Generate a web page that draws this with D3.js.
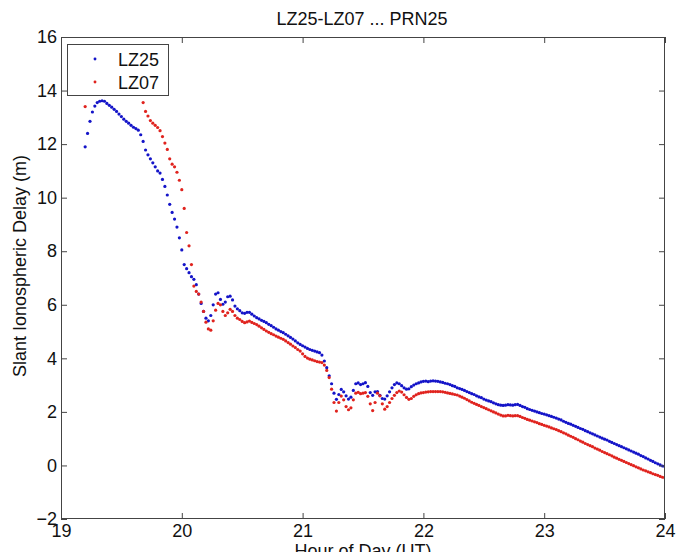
<!DOCTYPE html>
<html>
<head>
<meta charset="utf-8">
<script src="https://cdn.jsdelivr.net/npm/d3@7"></script>
<style>
  html, body { margin: 0; padding: 0; background: #fff; }
  svg { display: block; }
  text { font-family: "Liberation Sans", Arial, sans-serif; fill: #111; }
</style>
</head>
<body>
<svg id="chart" width="679" height="552"></svg>
<script>
// ---- data ----
const title = "LZ25-LZ07 ... PRN25";
const xLabel = "Hour of Day (UT)";
const yLabel = "Slant Ionospheric Delay (m)";
const seriesNames = ["LZ25", "LZ07"];
const startHour = 19.2;
const stepHour = 0.02;
const xTicks = [19, 20, 21, 22, 23, 24];
const yTicks = [-2, 0, 2, 4, 6, 8, 10, 12, 14, 16];

const lz25 = [
  11.9, 12.4, 12.85, 13.2, 13.42, 13.55, 13.6, 13.62, 13.6, 13.52,
  13.45, 13.38, 13.3, 13.22, 13.12, 13.03, 12.93, 12.85, 12.78, 12.7,
  12.63, 12.58, 12.52, 12.35, 12.1, 11.78, 11.6, 11.45, 11.3, 11.15,
  11.0, 10.92, 10.68, 10.42, 10.1, 9.75, 9.45, 9.2, 8.9, 8.5,
  8.05, 7.5, 7.35, 7.2, 7.05, 6.95, 6.75, 6.4, 6.05, 5.75,
  5.5, 5.4, 5.6, 6.0, 6.4, 6.45, 6.2, 6.02, 6.1, 6.3,
  6.32, 6.18, 5.95, 5.85, 5.78, 5.7, 5.68, 5.72, 5.72, 5.65,
  5.58, 5.52, 5.47, 5.42, 5.38, 5.33, 5.27, 5.22, 5.16, 5.1,
  5.05, 5.0, 4.96, 4.9, 4.84, 4.78, 4.72, 4.65, 4.58, 4.52,
  4.47, 4.42, 4.37, 4.33, 4.3, 4.27, 4.24, 4.21, 4.12, 3.9,
  3.65, 3.35, 3.05, 2.7, 2.47, 2.65, 2.84, 2.75, 2.6, 2.48,
  2.55, 2.8, 3.05, 3.08, 3.02, 3.05, 3.09, 2.95, 2.72, 2.62,
  2.75, 2.76, 2.62, 2.5, 2.48, 2.6, 2.75, 2.9, 3.02, 3.08,
  3.05, 2.98, 2.9, 2.85, 2.86, 2.94, 3.0, 3.05, 3.08, 3.12,
  3.14, 3.15, 3.13, 3.15, 3.16, 3.15, 3.14, 3.12, 3.1, 3.07,
  3.05, 3.02, 2.98, 2.95, 2.9, 2.87, 2.84, 2.8, 2.76, 2.72,
  2.68, 2.65, 2.6, 2.56, 2.53, 2.48, 2.44, 2.41, 2.38, 2.34,
  2.3, 2.27, 2.25, 2.24, 2.25, 2.27, 2.26, 2.25, 2.27, 2.28,
  2.24, 2.2, 2.17, 2.12, 2.09, 2.06, 2.03, 2.0, 1.97, 1.94,
  1.92, 1.89, 1.86, 1.83, 1.8, 1.77, 1.73, 1.7, 1.65, 1.61,
  1.57, 1.54, 1.5, 1.46, 1.42, 1.38, 1.35, 1.3, 1.26, 1.22,
  1.18, 1.14, 1.1, 1.06, 1.02, 0.98, 0.95, 0.9, 0.86, 0.82,
  0.78, 0.74, 0.7, 0.66, 0.62, 0.58, 0.54, 0.5, 0.46, 0.42,
  0.37, 0.33, 0.28, 0.24, 0.19, 0.15, 0.1, 0.06, 0.02, -0.02,
  -0.05
];

const lz07 = [
  13.4, 14.3, 15.6, 16.3, 16.8, 17.0, 17.2, 17.3, 17.3, 17.2,
  17.1, 17.0, 16.9, 16.75, 16.6, 16.5, 16.4, 16.3, 16.3, 16.1,
  15.5, 14.8, 14.4, 14.0, 13.55, 13.22, 13.05, 12.88, 12.78, 12.7,
  12.62, 12.5, 12.28, 12.04, 11.8, 11.45, 11.25, 11.15, 10.95, 10.65,
  10.3, 9.6, 8.7, 8.2, 7.5, 6.7, 6.5, 6.4, 6.1, 5.75,
  5.35, 5.1, 5.05, 5.4, 5.8, 6.05, 6.0, 5.75, 5.6, 5.7,
  5.83, 5.75, 5.6, 5.5, 5.45, 5.38, 5.33, 5.36, 5.39, 5.34,
  5.3, 5.26, 5.2, 5.14, 5.08, 5.02, 4.97, 4.92, 4.88, 4.83,
  4.79, 4.75, 4.71, 4.65, 4.59, 4.53, 4.46, 4.4, 4.33, 4.27,
  4.17, 4.07, 4.01, 3.97, 3.94, 3.91, 3.88, 3.86, 3.84, 3.75,
  3.55, 3.28, 2.85, 2.35, 2.03, 2.35, 2.59, 2.45, 2.2, 2.08,
  2.15, 2.45, 2.7, 2.73, 2.68, 2.7, 2.72, 2.58, 2.3, 2.05,
  2.35, 2.7, 2.6, 2.3, 2.1, 2.2, 2.35, 2.5, 2.62, 2.72,
  2.78, 2.74, 2.64, 2.54, 2.47, 2.5, 2.58, 2.64, 2.68, 2.71,
  2.72, 2.74, 2.75, 2.76, 2.76, 2.76, 2.76, 2.76, 2.75, 2.73,
  2.71, 2.69, 2.67, 2.65, 2.63, 2.59, 2.55, 2.51, 2.46, 2.41,
  2.36, 2.32, 2.28, 2.24, 2.2, 2.16, 2.12, 2.08, 2.04, 2.0,
  1.96, 1.92, 1.88, 1.85, 1.85, 1.87, 1.86, 1.85, 1.86, 1.86,
  1.83, 1.79, 1.76, 1.72, 1.69, 1.66, 1.63, 1.6, 1.56, 1.53,
  1.5, 1.47, 1.44, 1.4, 1.37, 1.34, 1.3, 1.26, 1.22, 1.18,
  1.13, 1.09, 1.05, 1.0, 0.96, 0.91, 0.87, 0.82, 0.78, 0.74,
  0.7, 0.65, 0.61, 0.57, 0.52, 0.48, 0.44, 0.4, 0.36, 0.31,
  0.27, 0.23, 0.19, 0.15, 0.11, 0.07, 0.03, -0.01, -0.05, -0.09,
  -0.13, -0.17, -0.2, -0.24, -0.27, -0.31, -0.34, -0.37, -0.41, -0.44,
  -0.47
];

// ---- layout ----
const W = 679, H = 552;
const plot = { left: 61, right: 665, top: 37, bottom: 519 };
const colors = ["#1414c8", "#e0231e"];
const fontSize = 18;
const tickLen = 6;

const svg = d3.select("#chart");
const x = d3.scaleLinear().domain([19, 24]).range([plot.left, plot.right]);
const y = d3.scaleLinear().domain([-2, 16]).range([plot.bottom, plot.top]);

svg.append("defs").append("clipPath").attr("id", "clip")
  .append("rect")
  .attr("x", plot.left).attr("y", plot.top)
  .attr("width", plot.right - plot.left).attr("height", plot.bottom - plot.top);

// data series
const series = [lz25, lz07].map((vals, k) => ({
  name: seriesNames[k],
  color: colors[k],
  points: vals.map((v, i) => ({ h: startHour + i * stepHour, v }))
}));

const g = svg.append("g").attr("clip-path", "url(#clip)");
series.forEach(s => {
  g.append("g").selectAll("circle").data(s.points).join("circle")
    .attr("cx", d => x(d.h))
    .attr("cy", d => y(d.v))
    .attr("r", 1.6)
    .attr("fill", s.color);
});

// axes (MATLAB-style box, inward ticks on all sides)
const axisColor = "#444";
function styleAxis(sel) {
  sel.select(".domain").remove();
  sel.selectAll(".tick line").attr("stroke", axisColor);
  sel.selectAll(".tick text").style("font-size", fontSize + "px").attr("fill", "#111");
}

const xb = svg.append("g").attr("transform", `translate(0,${plot.bottom})`)
  .call(d3.axisBottom(x).tickValues(xTicks).tickSizeInner(-tickLen).tickSizeOuter(0).tickPadding(4).tickFormat(d3.format("d")));
styleAxis(xb);
xb.selectAll(".tick text").attr("y", 18).attr("dy", 0);

const xt = svg.append("g").attr("transform", `translate(0,${plot.top})`)
  .call(d3.axisTop(x).tickValues(xTicks).tickSizeInner(-tickLen).tickSizeOuter(0).tickFormat(""));
styleAxis(xt);

const yl = svg.append("g").attr("transform", `translate(${plot.left},0)`)
  .call(d3.axisLeft(y).tickValues(yTicks).tickSizeInner(-tickLen).tickSizeOuter(0).tickPadding(4).tickFormat(d3.format("d")));
styleAxis(yl);
yl.selectAll(".tick text").attr("x", -4);

const yr = svg.append("g").attr("transform", `translate(${plot.right},0)`)
  .call(d3.axisRight(y).tickValues(yTicks).tickSizeInner(-tickLen).tickSizeOuter(0).tickFormat(""));
styleAxis(yr);

// box
svg.append("rect")
  .attr("x", plot.left + 0.5).attr("y", plot.top + 0.5)
  .attr("width", plot.right - plot.left - 1).attr("height", plot.bottom - plot.top - 1)
  .attr("fill", "none").attr("stroke", axisColor).attr("stroke-width", 1);

// title & labels
svg.append("text").attr("x", 362).attr("y", 25).attr("text-anchor", "middle")
  .style("font-size", fontSize + "px").text(title);
svg.append("text").attr("x", 363).attr("y", 557).attr("text-anchor", "middle")
  .style("font-size", fontSize + "px").text(xLabel);
svg.append("text").attr("transform", "translate(26,266) rotate(-90)").attr("text-anchor", "middle")
  .style("font-size", fontSize + "px").text(yLabel);

// legend
const lg = svg.append("g");
lg.append("rect").attr("x", 67.5).attr("y", 44.5).attr("width", 101).attr("height", 51)
  .attr("fill", "#fff").attr("stroke", axisColor);
series.forEach((s, k) => {
  const cy = 59 + k * 23;
  lg.append("circle").attr("cx", 95).attr("cy", cy).attr("r", 1.45).attr("fill", s.color);
  lg.append("text").attr("x", 118).attr("y", cy + 6.5)
    .style("font-size", fontSize + "px").text(s.name);
});
</script>
</body>
</html>
